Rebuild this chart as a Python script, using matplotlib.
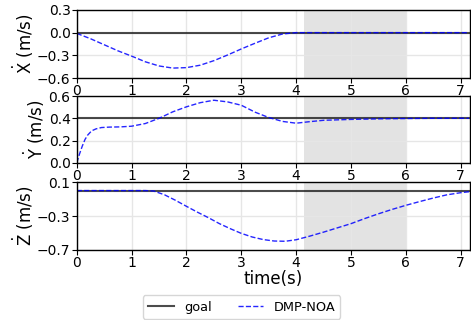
import matplotlib
matplotlib.use('Agg')
import matplotlib.pyplot as plt

# velocities
t_x = [0, 0.25, 0.5, 0.75, 1.0, 1.25, 1.5, 1.75, 2.0, 2.25, 2.5, 2.75, 3.0,
       3.25, 3.5, 3.75, 4.0, 4.5, 5.0, 5.5, 6.0, 6.5, 7.0, 7.15]
vel_x = [-0.01, -0.08, -0.16, -0.24, -0.31, -0.385, -0.44, -0.468, -0.462,
         -0.43, -0.37, -0.295, -0.215, -0.14, -0.068, -0.018, 0.0, 0.0, 0.0,
         0.0, 0.0, 0.0, 0.0, 0.0]

t_y = [0, 0.05, 0.1, 0.15, 0.2, 0.27, 0.35, 0.45, 0.6, 0.8, 1.0, 1.25, 1.5,
       1.75, 2.0, 2.25, 2.5, 2.75, 3.0, 3.25, 3.5, 3.75, 4.0, 4.25, 4.5, 5.0,
       5.5, 6.0, 6.5, 7.0, 7.15]
vel_y = [0.0, 0.08, 0.15, 0.21, 0.25, 0.287, 0.305, 0.317, 0.321, 0.323,
         0.329, 0.353, 0.40, 0.458, 0.503, 0.54, 0.562, 0.547, 0.517, 0.455,
         0.407, 0.372, 0.356, 0.37, 0.382, 0.39, 0.395, 0.398, 0.40, 0.40, 0.40]

t_z = [0, 0.5, 1.0, 1.25, 1.4, 1.6, 1.8, 2.0, 2.2, 2.4, 2.6, 2.8, 3.0, 3.2,
       3.4, 3.6, 3.8, 4.0, 4.25, 4.5, 4.75, 5.0, 5.25, 5.5, 5.75, 6.0, 6.25,
       6.5, 6.75, 7.0, 7.15]
vel_z = [0, 0, 0, 0, -0.005, -0.05, -0.115, -0.186, -0.255, -0.32, -0.39,
         -0.45, -0.505, -0.548, -0.578, -0.595, -0.598, -0.58, -0.537, -0.49,
         -0.44, -0.39, -0.33, -0.274, -0.222, -0.174, -0.13, -0.088, -0.05,
         -0.025, -0.014]

goals = [0.0, 0.4, 0.0]
ylabels = [r'$\dot{\mathrm{X}}$ (m/s)', r'$\dot{\mathrm{Y}}$ (m/s)', r'$\dot{\mathrm{Z}}$ (m/s)']
yticks = [[0.3, 0.0, -0.3, -0.6], [0.0, 0.2, 0.4, 0.6], [0.1, -0.3, -0.7]]
ylims = [(-0.6, 0.3), (0.0, 0.6), (-0.7, 0.1)]
xticks = [0, 1, 2, 3, 4, 5, 6, 7]
shade = (4.15, 6.0)
t_end = 7.17

fig = plt.figure(figsize=(4.71, 3.2), dpi=100)
boxes = [[0.163, 0.756, 0.835, 0.213],
         [0.163, 0.491, 0.835, 0.209],
         [0.163, 0.219, 0.835, 0.212]]

series = [(t_x, vel_x), (t_y, vel_y), (t_z, vel_z)]
axes = []
for i, (box, (t, v)) in enumerate(zip(boxes, series)):
    ax = fig.add_axes(box)
    ax.axvspan(shade[0], shade[1], color='gray', alpha=0.22, lw=0, zorder=0)
    ax.axhline(goals[i], color='k', alpha=0.7, lw=1.5, label='goal')
    ax.plot(t, v, color='blue', ls='--', lw=1.0, alpha=0.85, label='DMP-NOA')
    ax.set_xlim(0, t_end)
    ax.set_ylim(*ylims[i])
    ax.set_yticks(yticks[i])
    ax.set_xticks(xticks)
    ax.set_yticklabels(['%.1f' % y if y >= 0 else '\u2212%.1f' % -y for y in yticks[i]])
    ax.grid(True, color='#e6e6e6', lw=1)
    ax.set_axisbelow(True)
    ax.tick_params(labelsize=10, pad=1)
    ax.set_ylabel(ylabels[i], fontsize=12, labelpad=1)
    for s in ax.spines.values():
        s.set_linewidth(1.0)
    axes.append(ax)

axes[2].set_xlabel('time(s)', fontsize=12, labelpad=0)
fig.align_ylabels(axes)

h, l = axes[0].get_legend_handles_labels()
fig.legend(h, l, loc='upper center', bbox_to_anchor=(0.513, 0.097), ncol=2,
           fontsize=9.3, frameon=True)

fig.savefig('out.png', dpi=100)
